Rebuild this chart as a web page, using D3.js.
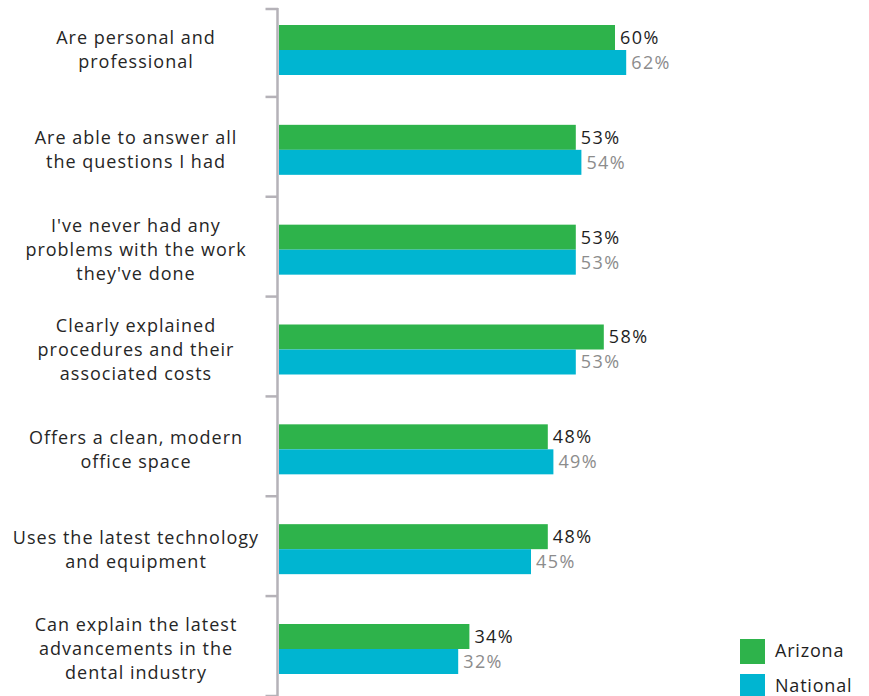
<!DOCTYPE html>
<html>
<head>
<meta charset="utf-8">
<script src="https://cdn.jsdelivr.net/npm/d3@7"></script>
<style>
  html, body { margin: 0; padding: 0; background: #fff; }
  svg { display: block; }
  text { font-family: "Open Sans", "DejaVu Sans", sans-serif; }
</style>
</head>
<body>
<svg id="chart" width="869" height="696"></svg>
<script>
const categories = [
  ["Are personal and", "professional"],
  ["Are able to answer all", "the questions I had"],
  ["I've never had any", "problems with the work", "they've done"],
  ["Clearly explained", "procedures and their", "associated costs"],
  ["Offers a clean, modern", "office space"],
  ["Uses the latest technology", "and equipment"],
  ["Can explain the latest", "advancements in the", "dental industry"]
];
const seriesNames = ["Arizona", "National"];
const arizona = [60, 53, 53, 58, 48, 48, 34];
const national = [62, 54, 53, 53, 49, 45, 32];
const colors = ["#2eb34b", "#00b5d1"];
const labelColors = ["#1e1e1e", "#8c8c8c"];

const svg = d3.select("#chart");
const W = 869, H = 696;
const x0 = 279;
const x = d3.scaleLinear().domain([0, 100]).range([x0, x0 + 560]);

const idx = d3.range(categories.length);
// group centres
const center = d3.scalePoint().domain(idx).range([50, 649]);
const sub = d3.scaleBand().domain(seriesNames).range([-25, 25]).padding(0);

const data = idx.map(i => ({i, vals: [arizona[i], national[i]]}));

// bars
const g = svg.append("g");
data.forEach(d => {
  d.vals.forEach((v, s) => {
    const y = center(d.i) + sub(seriesNames[s]);
    g.append("rect")
      .attr("x", x(0))
      .attr("y", y)
      .attr("width", x(v) - x(0))
      .attr("height", sub.bandwidth())
      .attr("fill", colors[s]);
    g.append("text")
      .attr("x", x(v) + 5)
      .attr("y", y + sub.bandwidth() / 2)
      .attr("dy", "0.36em")
      .attr("font-size", 18)
      .attr("letter-spacing", "1.4px")
      .attr("fill", labelColors[s])
      .text(v + "%");
  });
});

// axis
const axisColor = "#b5b2b8";
svg.append("line")
  .attr("x1", 277.5).attr("x2", 277.5)
  .attr("y1", 8).attr("y2", H)
  .attr("stroke", axisColor).attr("stroke-width", 2.5);
const mids = idx.slice(1).map(i => (center(i - 1) + center(i)) / 2 - 3);
const tickYs = [9].concat(mids).concat([696]);
svg.selectAll("line.tick").data(tickYs).join("line")
  .attr("class", "tick")
  .attr("x1", 265.5).attr("x2", 278)
  .attr("y1", d => d).attr("y2", d => d)
  .attr("stroke", axisColor).attr("stroke-width", 2.5);

// category labels
const lh = 24;
data.forEach(d => {
  const lines = categories[d.i];
  const t = svg.append("text")
    .attr("x", 136)
    .attr("text-anchor", "middle")
    .attr("font-size", 18)
    .attr("letter-spacing", "1px")
    .attr("fill", "#262626");
  lines.forEach((ln, k) => {
    t.append("tspan")
      .attr("x", 136)
      .attr("y", center(d.i) + (k - (lines.length - 1) / 2) * lh)
      .attr("dy", "0.36em")
      .text(ln);
  });
});

// legend
const legend = svg.append("g");
seriesNames.forEach((name, s) => {
  const ly = 639 + s * 35;
  legend.append("rect")
    .attr("x", 740).attr("y", ly)
    .attr("width", 25).attr("height", 25)
    .attr("fill", colors[s]);
  legend.append("text")
    .attr("x", 775).attr("y", ly + 12)
    .attr("dy", "0.34em")
    .attr("font-size", 18)
    .attr("letter-spacing", "0.8px")
    .attr("fill", "#1e1e1e")
    .text(name);
});
</script>
</body>
</html>
